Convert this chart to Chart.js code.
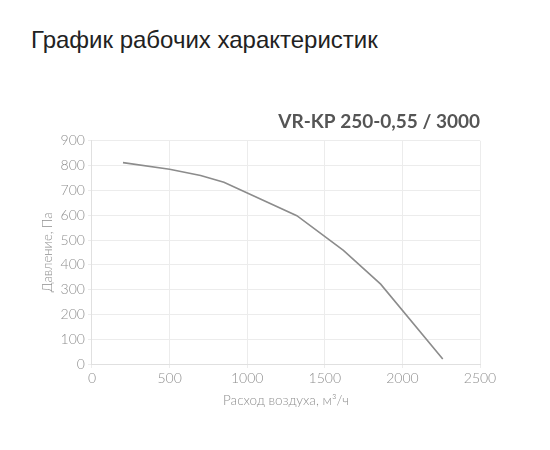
<!DOCTYPE html>
<html>
<head>
<meta charset="utf-8">
<script src="https://cdn.jsdelivr.net/npm/chart.js@4"></script>
<style>
  body { margin: 0; background: #fff; width: 550px; height: 450px; overflow: hidden; }
  h1 { position: absolute; left: 31px; top: 26px; margin: 0; font: 400 24px "Liberation Sans", Arial, sans-serif; color: #222; }
  #wrap { position: absolute; left: 0; top: 100px; width: 550px; height: 330px; }
</style>
</head>
<body>
<h1>График рабочих характеристик</h1>
<div id="wrap"><canvas id="chart"></canvas></div>
<script>
const chartTitle = "VR-KP 250-0,55 / 3000";
const xLabel = "Расход воздуха, м³/ч";
const yLabel = "Давление, Па";
const flow = [200, 500, 700, 850, 1320, 1620, 1860, 2260];
const pressure = [812, 785, 760, 733, 598, 458, 322, 20];

const tickFont = { family: "Lato, 'Open Sans', sans-serif", size: 14, weight: 300 };
const grey = "#8f8f8f";

new Chart(document.getElementById("chart"), {
  type: "line",
  data: {
    datasets: [{
      data: flow.map((x, i) => ({ x, y: pressure[i] })),
      borderColor: "#8c8c8c",
      borderWidth: 1.6,
      pointRadius: 0,
      tension: 0,
      fill: false
    }]
  },
  options: {
    responsive: true,
    maintainAspectRatio: false,
    animation: false,
    layout: { padding: { left: 36, right: 70, top: 0, bottom: 17 } },
    plugins: {
      legend: { display: false },
      tooltip: { enabled: false },
      title: {
        display: true,
        text: chartTitle,
        align: "end",
        color: "#555",
        font: { family: "Lato, 'Open Sans', sans-serif", size: 19, weight: "bold" },
        padding: { top: 10, bottom: 8 }
      }
    },
    scales: {
      x: {
        type: "linear",
        min: 0,
        max: 2500,
        ticks: { stepSize: 500, color: grey, font: tickFont, padding: 2, callback: v => String(v) },
        grid: { color: "#ececec", tickLength: 4 },
        border: { color: "#e0e0e0" },
        title: { display: true, text: xLabel, color: grey, font: { family: tickFont.family, size: 13.5, weight: 300 }, padding: { top: 4 } }
      },
      y: {
        min: 0,
        max: 900,
        ticks: { stepSize: 100, color: grey, font: tickFont, padding: 3, callback: v => String(v) },
        grid: { color: "#ececec", tickLength: 4 },
        border: { color: "#e0e0e0" },
        title: { display: true, text: yLabel, color: grey, font: { family: tickFont.family, size: 13, weight: 300 }, padding: { bottom: 2 } }
      }
    }
  }
});
</script>
</body>
</html>
